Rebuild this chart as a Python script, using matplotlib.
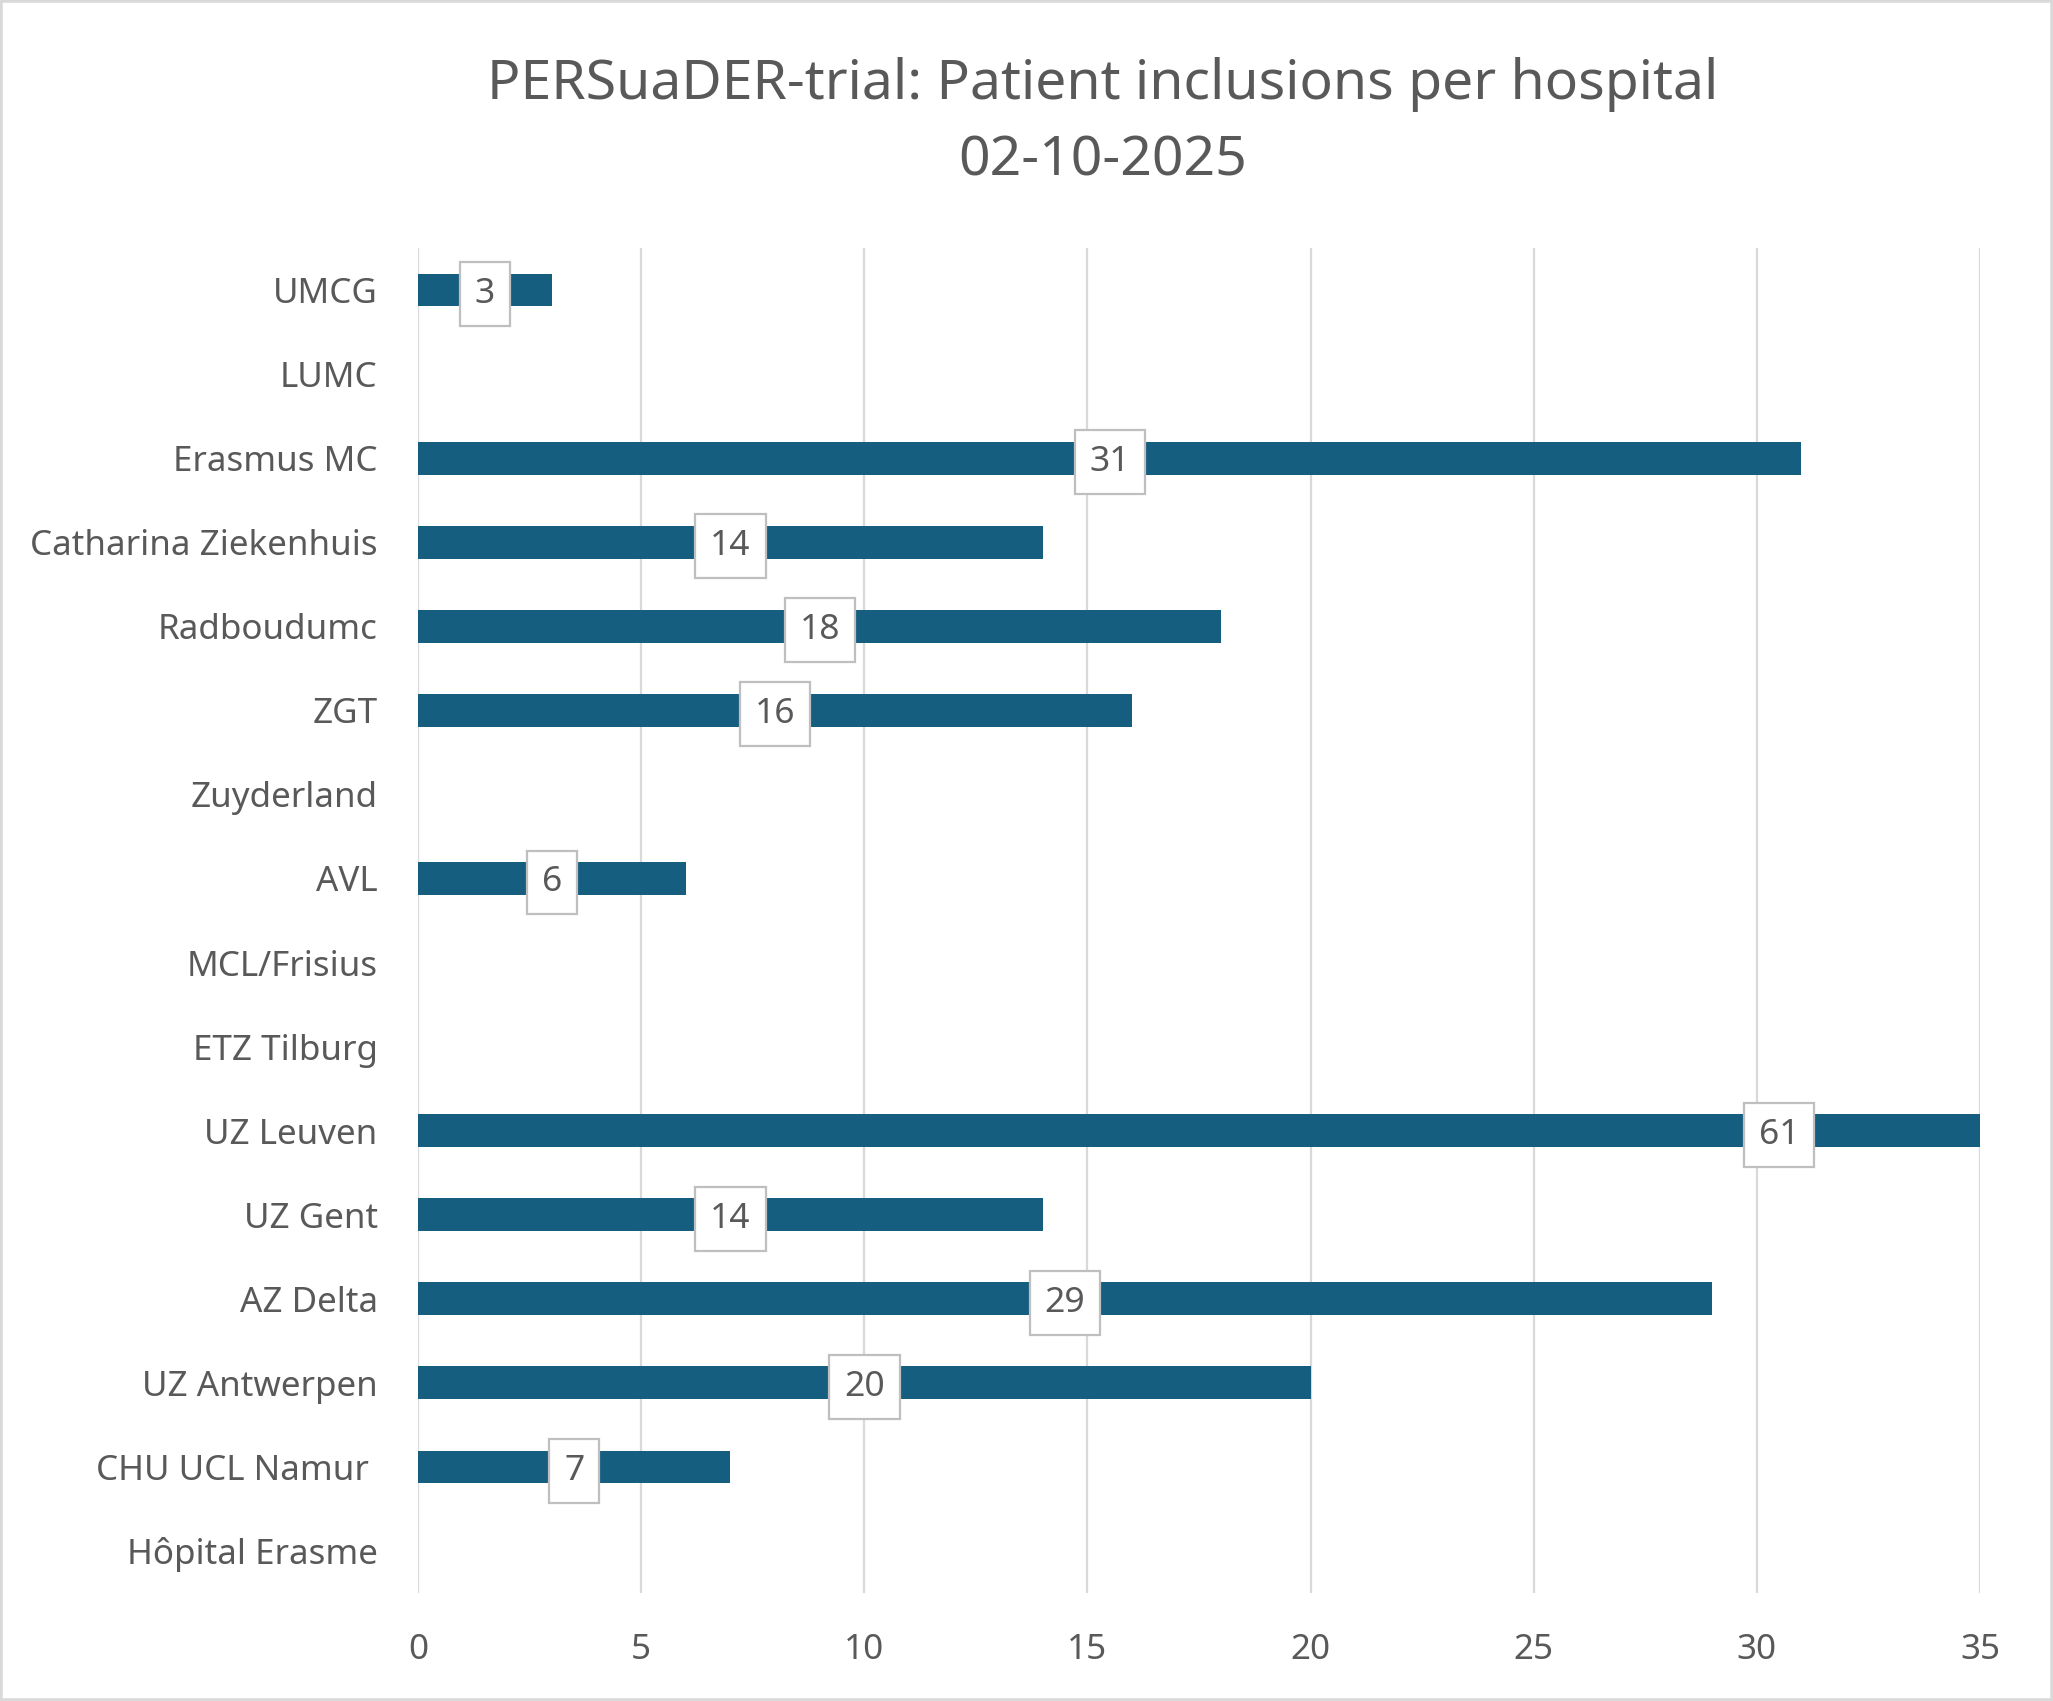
import numpy as np
import matplotlib
matplotlib.use('Agg')
import matplotlib.pyplot as plt
from matplotlib.patches import Rectangle

hospitals = ["UMCG", "LUMC", "Erasmus MC", "Catharina Ziekenhuis", "Radboudumc",
             "ZGT", "Zuyderland", "AVL", "MCL/Frisius", "ETZ Tilburg",
             "UZ Leuven", "UZ Gent", "AZ Delta", "UZ Antwerpen",
             "CHU UCL Namur ", "Hôpital Erasme"]
inclusions = [3, 0, 31, 14, 18, 16, 0, 6, 0, 0, 61, 14, 29, 20, 7, 0]
x_ticks = [0, 5, 10, 15, 20, 25, 30, 35]

BAR_COLOR = '#165E80'
TEXT_COLOR = '#595959'
GRID_COLOR = '#D9D9D9'

plt.rcParams['font.family'] = ['Noto Sans', 'DejaVu Sans']

fig = plt.figure(figsize=(20.53, 17.01), dpi=100)
ax = fig.add_axes([0.2036, 0.0635, 0.7608, 0.7907])

y = np.arange(len(hospitals))
ax.barh(y, inclusions, height=0.39, color=BAR_COLOR, zorder=2)

for yi, v in zip(y, inclusions):
    if v > 0:
        ax.text(v / 2, yi, str(v), ha='center', va='center_baseline', fontsize=25.5,
                color=TEXT_COLOR, zorder=3,
                bbox=dict(boxstyle='square,pad=0.42', fc='white',
                          ec='#BFBFBF', lw=1.6))

ax.set_xlim(0, 35)
ax.set_ylim(len(hospitals) - 0.5, -0.5)
ax.set_xticks(x_ticks)
ax.set_yticks(y)
ax.set_yticklabels(hospitals)
ax.tick_params(axis='both', length=0, labelsize=25.2, labelcolor=TEXT_COLOR)
ax.tick_params(axis='y', pad=29)
ax.tick_params(axis='x', pad=29)
ax.grid(axis='x', color=GRID_COLOR, linewidth=1.6, zorder=0)
ax.set_axisbelow(True)
for s in ax.spines.values():
    s.set_visible(False)

fig.text(0.537, 1 - 84 / 1701, "PERSuaDER-trial: Patient inclusions per hospital",
         ha='center', va='center', fontsize=39.8, color=TEXT_COLOR)
fig.text(0.537, 1 - 161 / 1701, "02-10-2025",
         ha='center', va='center', fontsize=39.8, color=TEXT_COLOR)

fig.patches.append(Rectangle((0, 0), 1, 1, transform=fig.transFigure,
                             fill=False, ec=GRID_COLOR, lw=4))

fig.savefig('out.png', dpi=100, facecolor='white')
